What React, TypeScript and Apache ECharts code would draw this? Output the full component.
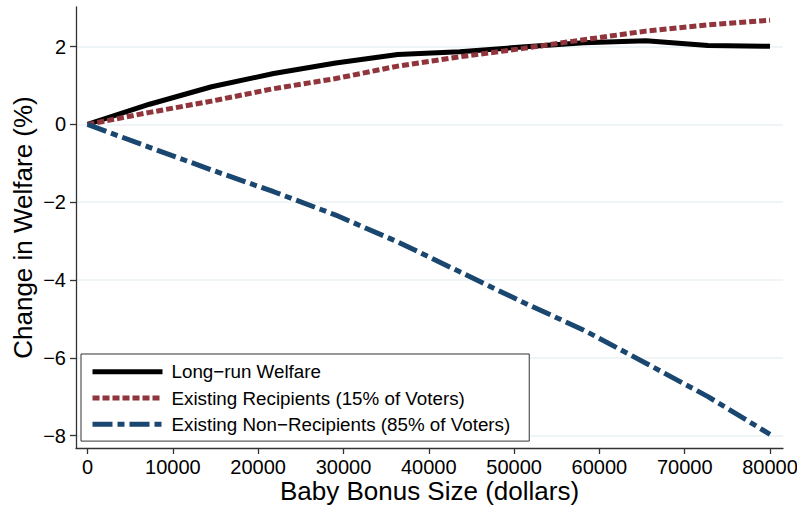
import React, { useEffect, useRef } from 'react';
import * as echarts from 'echarts';

const bonusSizes = [0, 7273, 14545, 21818, 29091, 36364, 43636, 50909, 58182, 65455, 72727, 80000];
const longRunWelfare = [0, 0.52, 0.97, 1.31, 1.58, 1.8, 1.87, 1.99, 2.1, 2.15, 2.03, 2.01];
const existingRecipients = [0, 0.31, 0.6, 0.92, 1.18, 1.5, 1.74, 1.95, 2.18, 2.4, 2.56, 2.68];
const existingNonRecipients = [0, -0.59, -1.17, -1.73, -2.33, -3.02, -3.79, -4.56, -5.29, -6.14, -7.0, -7.97];
const xTicks = [0, 10000, 20000, 30000, 40000, 50000, 60000, 70000, 80000];
const yTicks = [-8, -6, -4, -2, 0, 2];
const seriesNames = [
  'Long\u2212run Welfare',
  'Existing Recipients (15% of Voters)',
  'Existing Non\u2212Recipients (85% of Voters)',
];

const FONT = '"Liberation Sans", Arial, Helvetica, sans-serif';

export default function App() {
  const ref = useRef<HTMLDivElement>(null);
  useEffect(() => {
    if (!ref.current) return;
    const chart = echarts.init(ref.current, undefined, { renderer: 'svg' });
    const pair = (ys: number[]) => bonusSizes.map((x, i) => [x, ys[i]]);
    const axisLine = { show: true, onZero: false, lineStyle: { color: '#333', width: 1.3 } };
    chart.setOption({
      animation: false,
      backgroundColor: '#fff',
      textStyle: { fontFamily: FONT },
      grid: { left: 76, top: 7, right: 14, bottom: 58, containLabel: false, outerBoundsMode: 'none' },
      xAxis: {
        type: 'value',
        min: -1350,
        max: 81520,
        name: 'Baby Bonus Size (dollars)',
        nameLocation: 'middle',
        nameGap: 30,
        nameMoveOverlap: false,
        nameTextStyle: { fontSize: 26, color: '#000', fontFamily: FONT },
        axisLine,
        axisTick: { show: true, length: 6, customValues: xTicks, lineStyle: { color: '#333', width: 1.3 } },
        axisLabel: {
          customValues: xTicks,
          fontSize: 20,
          color: '#000',
          margin: 9,
          fontFamily: FONT,
          formatter: (v: number) => String(v),
        },
        splitLine: { show: false },
      },
      yAxis: {
        type: 'value',
        min: -8.32,
        max: 3.02,
        name: 'Change in Welfare (%)',
        nameLocation: 'middle',
        nameGap: 40,
        nameMoveOverlap: false,
        nameTextStyle: { fontSize: 26, color: '#000', fontFamily: FONT },
        axisLine,
        axisTick: { show: true, length: 6, customValues: yTicks, lineStyle: { color: '#333', width: 1.3 } },
        axisLabel: {
          customValues: yTicks,
          fontSize: 20,
          color: '#000',
          margin: 10,
          fontFamily: FONT,
          formatter: (v: number) => (v < 0 ? '\u2212' + Math.abs(v) : String(v)),
        },
        splitLine: { show: true, lineStyle: { color: '#eaf2f3', width: 1.5 } },
      },
      legend: {
        orient: 'vertical',
        left: 81,
        top: 354,
        padding: [8.3, 19, 7.4, 9],
        borderColor: '#333',
        borderWidth: 1,
        backgroundColor: '#fff',
        itemWidth: 70,
        itemHeight: 14,
        itemGap: 7.2,
        itemStyle: { opacity: 0, borderWidth: 0 },
        lineStyle: { width: 5 },
        textStyle: { fontSize: 18.8, color: '#000', fontFamily: FONT, padding: [0, 0, 0, 4] },
        data: seriesNames,
      },
      series: [
        {
          name: seriesNames[0],
          type: 'line',
          data: pair(longRunWelfare),
          symbol: 'none',
          lineStyle: { color: '#000', width: 5, cap: 'butt', join: 'round' },
          itemStyle: { color: '#000' },
          z: 3,
        },
        {
          name: seriesNames[1],
          type: 'line',
          data: pair(existingRecipients),
          symbol: 'none',
          lineStyle: { color: '#90353b', width: 5, type: [7, 3], cap: 'butt', join: 'round' },
          itemStyle: { color: '#90353b' },
          z: 4,
        },
        {
          name: seriesNames[2],
          type: 'line',
          data: pair(existingNonRecipients),
          symbol: 'none',
          lineStyle: { color: '#1a476f', width: 5, type: [20, 5, 7, 5], cap: 'butt', join: 'round' },
          itemStyle: { color: '#1a476f' },
          z: 5,
        },
      ],
    });
    return () => chart.dispose();
  }, []);
  return <div ref={ref} style={{ position: 'absolute', left: 0, top: 0, width: 797, height: 506 }} />;
}
